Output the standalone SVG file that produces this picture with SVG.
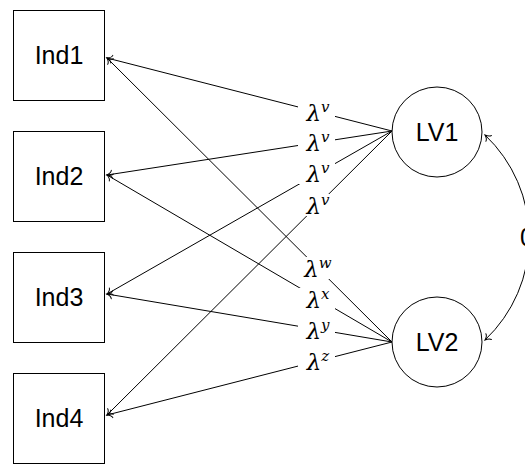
<svg xmlns="http://www.w3.org/2000/svg" width="525" height="464" viewBox="0 0 525 464">
<defs>
<style>
.box{fill:#fff;stroke:#000;stroke-width:1}
.lbl{font-family:"Liberation Sans","DejaVu Sans",sans-serif;font-size:25px;fill:#000;text-anchor:middle}
.edge{fill:none;stroke:#000;stroke-width:1}
.lam{font-family:"DejaVu Serif","Liberation Serif",serif;font-style:italic;font-size:23px;fill:#000;text-anchor:middle}
.sup{font-size:15px}
.bg{fill:#fff;stroke:none}
</style>
<marker id="arr" markerUnits="userSpaceOnUse" markerWidth="12" markerHeight="12" viewBox="-8 -6 10 12" refX="0" refY="0" orient="auto-start-reverse">
<path d="M-5,-4 C-4.5,-2 -1.5,-0.5 0,0 C-1.5,0.5 -4.5,2 -5,4" fill="none" stroke="#000" stroke-width="1" stroke-linecap="round"/>
</marker>
</defs>
<rect width="525" height="464" fill="#fff"/>
<g id="connectors">
<line class="edge" x1="392" y1="131" x2="107" y2="58" marker-end="url(#arr)"/>
<line class="edge" x1="392" y1="131" x2="107" y2="175" marker-end="url(#arr)"/>
<line class="edge" x1="392" y1="131" x2="107" y2="294" marker-end="url(#arr)"/>
<line class="edge" x1="392" y1="131" x2="107" y2="415" marker-end="url(#arr)"/>
<line class="edge" x1="392" y1="342" x2="107" y2="58" marker-end="url(#arr)"/>
<line class="edge" x1="392" y1="342" x2="107" y2="175" marker-end="url(#arr)"/>
<line class="edge" x1="392" y1="342" x2="107" y2="294" marker-end="url(#arr)"/>
<line class="edge" x1="392" y1="342" x2="107" y2="415" marker-end="url(#arr)"/>
<path class="edge" d="M485,135 A141,141 0 0 1 485,340" marker-start="url(#arr)" marker-end="url(#arr)"/>
<g id="edge-labels">
<rect class="bg" x="298" y="101" width="37" height="22"/>
<text class="lam" x="318" y="121">λ<tspan class="sup" dy="-9">v</tspan></text>
<rect class="bg" x="298" y="131" width="37" height="22"/>
<text class="lam" x="318" y="151">λ<tspan class="sup" dy="-9">v</tspan></text>
<rect class="bg" x="298" y="162" width="37" height="22"/>
<text class="lam" x="318" y="182">λ<tspan class="sup" dy="-9">v</tspan></text>
<rect class="bg" x="298" y="194" width="37" height="22"/>
<text class="lam" x="318" y="214">λ<tspan class="sup" dy="-9">v</tspan></text>
<rect class="bg" x="298" y="257" width="37" height="22"/>
<text class="lam" x="318" y="277">λ<tspan class="sup" dy="-9">w</tspan></text>
<rect class="bg" x="298" y="288" width="37" height="22"/>
<text class="lam" x="318" y="308">λ<tspan class="sup" dy="-9">x</tspan></text>
<rect class="bg" x="298" y="319" width="37" height="22"/>
<text class="lam" x="318" y="339">λ<tspan class="sup" dy="-9">y</tspan></text>
<rect class="bg" x="298" y="350" width="37" height="22"/>
<text class="lam" x="318" y="370">λ<tspan class="sup" dy="-9">z</tspan></text>
<rect class="bg" x="516" y="226" width="20" height="24"/>
<text class="lbl" x="527" y="246">0</text>
</g>
</g>
<g id="Ind1"><rect class="box" x="13.5" y="10.5" width="91" height="90"/><text class="lbl" x="59" y="64">Ind1</text></g>
<g id="Ind2"><rect class="box" x="13.5" y="131.5" width="91" height="90"/><text class="lbl" x="59" y="185">Ind2</text></g>
<g id="Ind3"><rect class="box" x="13.5" y="252.5" width="91" height="90"/><text class="lbl" x="59" y="306">Ind3</text></g>
<g id="Ind4"><rect class="box" x="13.5" y="373.5" width="91" height="90"/><text class="lbl" x="59" y="427">Ind4</text></g>
<g id="LV1"><circle class="box" cx="437" cy="132" r="45"/><text class="lbl" x="437" y="141">LV1</text></g>
<g id="LV2"><circle class="box" cx="437" cy="342" r="45"/><text class="lbl" x="437" y="351">LV2</text></g>
</svg>
